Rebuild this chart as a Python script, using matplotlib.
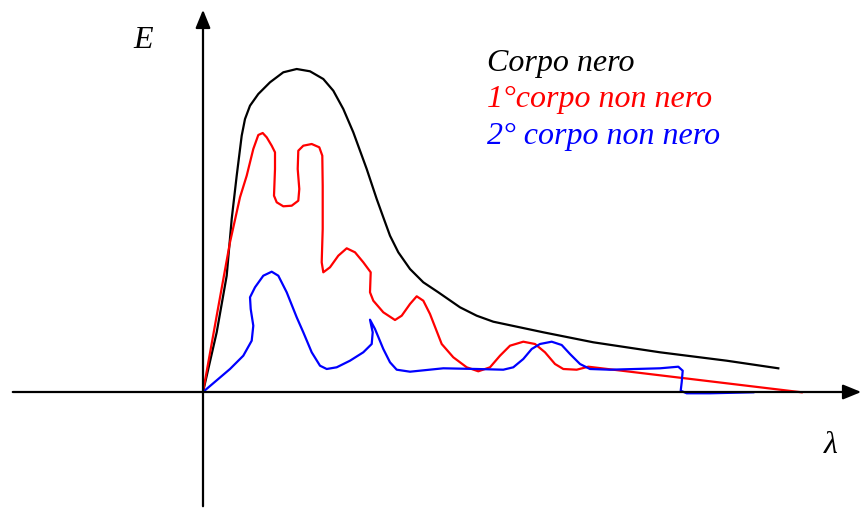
import matplotlib.pyplot as plt

# coordinates (pixels, y downwards)
nero_x = [203, 216.7, 226.7, 231.7, 236.7, 241.7, 245, 250, 258.3, 270, 283.3, 296.7, 310, 323.3,
          333.3, 343.3, 353.3, 366.7, 376.7, 383.3, 390, 398.3, 410, 423.3, 438.3, 460, 476.7, 493.3,
          543.3, 593.3, 660, 726.7, 778.3]
nero_y = [393, 333.3, 276.7, 220, 176.7, 136.7, 120, 106.7, 95, 83.3, 73.3, 70, 72.3, 80,
          91.7, 110, 133.3, 170, 200, 218.3, 236.7, 253.3, 270, 283.3, 293.3, 308.3, 316.7, 322.7,
          333.3, 343.3, 353.3, 361.7, 369.3]

rosso_x = [203, 216.7, 230, 240, 246.7, 253.3, 258.3, 262.7, 266.7, 271.7, 275, 275, 274, 276.7,
           283.3, 291.7, 298.3, 299.3, 297.7, 298.3, 303.3, 311.7, 319.3, 322.3, 322.7, 322.7,
           322.7, 321.7, 323.3, 330, 338.3, 346.7, 355, 363.3, 370.7, 370, 373.3, 383.3, 395,
           401.7, 410, 416.7, 423.3, 430, 441.7, 453.3, 466.7, 478.3, 490, 500, 510, 523.3, 535,
           545, 555, 563.3, 576.7, 588.3, 801.7]
rosso_y = [393, 316.7, 243.3, 198.3, 176.7, 150, 136, 134, 138.3, 146.7, 153.3, 170, 196.7, 203.3,
           207.3, 206.7, 201.7, 190, 170, 151.7, 146.7, 145, 148.3, 156.7, 186.7, 220,
           230, 263.3, 273.3, 268.3, 256.7, 249.3, 253.3, 263.3, 273.3, 293.3, 301.7, 313.3, 321,
           316.7, 305, 297.3, 301.7, 315, 345, 358.3, 368.3, 372.3, 368.3, 356.7, 346.7, 342.7, 345,
           353.3, 365, 370, 370.7, 367.7, 393.3]

blu_x = [203, 230, 243.3, 251.7, 253.3, 250.7, 250, 255, 263.3, 271.7, 278.3, 286.7, 296.7, 303.3,
         311.7, 320, 326.7, 336.7, 350, 363.3, 371.7, 372.7, 370, 375, 383.3, 390, 396.7, 410,
         443.3, 476.7, 503.3, 513.3, 523.3, 531.7, 540, 551.7, 561.7, 570, 580, 590, 610, 660,
         678.3, 682.7, 681.7, 680.7, 686.7, 710, 753.3]
blu_y = [393, 370, 356.7, 341.7, 326.7, 310, 298.3, 288.3, 276.7, 272.7, 276.7, 293.3, 318.3, 333.3,
         353.3, 366.7, 370, 368.3, 361.7, 353.3, 345, 333.3, 320.7, 330, 350, 363.3, 370.7, 372.7,
         369.3, 370, 370.7, 368.3, 360, 350, 345, 342.7, 346, 355, 365, 370, 370.7, 369.3,
         367.7, 371.7, 383.3, 391.7, 394.3, 394.3, 393.3]

legenda = ["Corpo nero", "1°corpo non nero", "2° corpo non nero"]
colori = ["black", "red", "blue"]

fig = plt.figure(figsize=(8.64, 5.10), dpi=100)
ax = fig.add_axes([0, 0, 1, 1])
ax.set_xlim(0, 864)
ax.set_ylim(510, 0)
ax.axis("off")

# assi con frecce
ax.annotate("", xy=(864, 393), xytext=(10, 393),
            arrowprops=dict(arrowstyle="-|>,head_length=1.1,head_width=0.45", color="black", lw=1.6))
ax.annotate("", xy=(203, 8), xytext=(203, 510),
            arrowprops=dict(arrowstyle="-|>,head_length=1.1,head_width=0.45", color="black", lw=1.6))

ax.plot(nero_x, nero_y, color=colori[0], lw=1.6, solid_joinstyle="round")
ax.plot(rosso_x, rosso_y, color=colori[1], lw=1.6, solid_joinstyle="round")
ax.plot(blu_x, blu_y, color=colori[2], lw=1.6, solid_joinstyle="round")

font = dict(family="Liberation Serif", style="italic", fontsize=23)
ax.text(143, 40, "E", ha="center", va="center", **font)
ax.text(831, 446, "λ", ha="center", va="center", **font)
for i, (t, c) in enumerate(zip(legenda, colori)):
    ax.text(487, 63 + 37 * i, t, color=c, ha="left", va="center", **font)

fig.savefig("out.png", dpi=100)
